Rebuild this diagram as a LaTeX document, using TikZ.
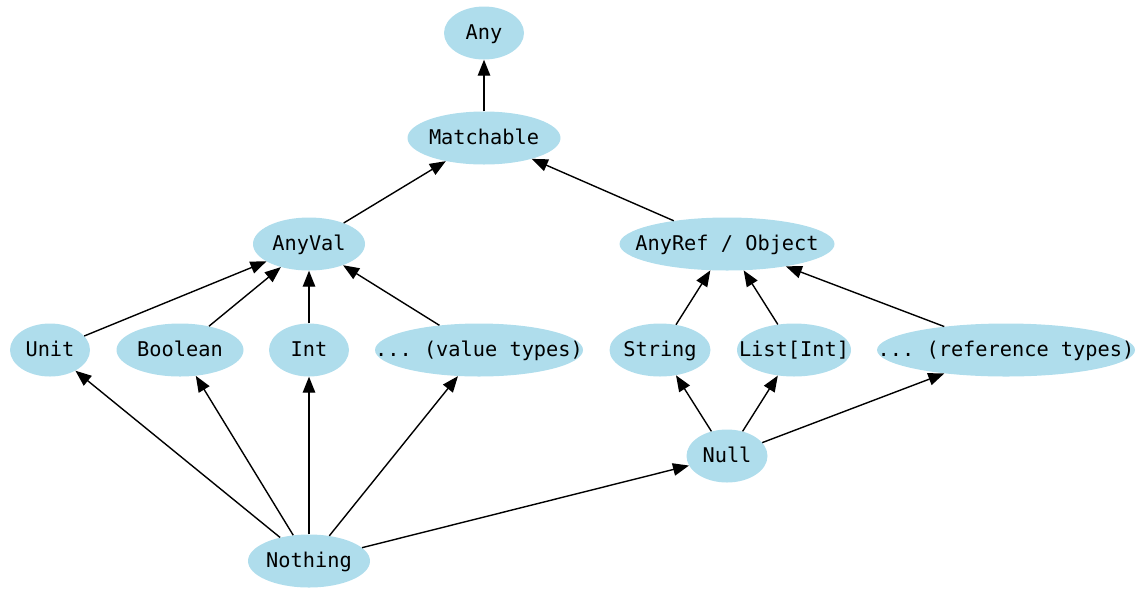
\documentclass[tikz,border=0pt]{standalone}
\usepackage{fontspec}
\setmonofont{DejaVu Sans Mono}
\usetikzlibrary{shapes.geometric,arrows.meta}
\definecolor{typefill}{HTML}{AFDDEC}
% the ellipse size is set by minimum width/height only; the label takes no room
% and its baseline sits a fixed distance below the node centre
\newcommand{\tname}[1]{\raisebox{-6.8pt}[0pt][0pt]{\makebox[0pt]{#1}}}
\tikzset{
  typ/.style={ellipse, fill=typefill, draw=none, inner sep=0pt,
    minimum height=53pt, text=black,
    font=\ttfamily\fontsize{20.3}{22}\selectfont},
  sub/.style={draw=black, line width=1.4pt,
    -{Triangle[length=16pt,width=12.5pt]}}
}
\begin{document}
\begin{tikzpicture}[x=1pt,y=-1pt]
\useasboundingbox (0,0) rectangle (1140,590);
% type hierarchy nodes
\node[typ, minimum width=80pt]  (any)     at (484,33)  {\tname{Any}};
\node[typ, minimum width=153pt] (match)   at (484,138) {\tname{Matchable}};
\node[typ, minimum width=112pt] (anyval)  at (309,244) {\tname{AnyVal}};
\node[typ, minimum width=215pt] (anyref)  at (727,244) {\tname{AnyRef / Object}};
\node[typ, minimum width=80pt]  (unit)    at (50,350)  {\tname{Unit}};
\node[typ, minimum width=127pt] (bool)    at (180,350) {\tname{Boolean}};
\node[typ, minimum width=80pt]  (int)     at (309,350) {\tname{Int}};
\node[typ, minimum width=208pt] (vtypes)  at (479,350) {\tname{... (value types)}};
\node[typ, minimum width=101pt] (string)  at (660,350) {\tname{String}};
\node[typ, minimum width=114pt] (list)    at (794,350) {\tname{List[Int]}};
\node[typ, minimum width=258pt] (rtypes)  at (1006,350) {\tname{... (reference types)}};
\node[typ, minimum width=81pt]  (null)    at (727,456) {\tname{Null}};
\node[typ, minimum width=122pt] (nothing) at (309,561) {\tname{Nothing}};
% subtype edges
\draw[sub] (match) -- (any);
\draw[sub] (anyval) -- (match);
\draw[sub] (anyref) -- (match);
\draw[sub] (unit) -- (anyval);
\draw[sub] (bool) -- (anyval);
\draw[sub] (int) -- (anyval);
\draw[sub] (vtypes) -- (anyval);
\draw[sub] (string) -- (anyref);
\draw[sub] (list) -- (anyref);
\draw[sub] (rtypes) -- (anyref);
\draw[sub] (null) -- (string);
\draw[sub] (null) -- (list);
\draw[sub] (null) -- (rtypes);
\draw[sub] (nothing) -- (unit);
\draw[sub] (nothing) -- (bool);
\draw[sub] (nothing) -- (int);
\draw[sub] (nothing) -- (vtypes);
\draw[sub] (nothing) -- (null);
\end{tikzpicture}
\end{document}
